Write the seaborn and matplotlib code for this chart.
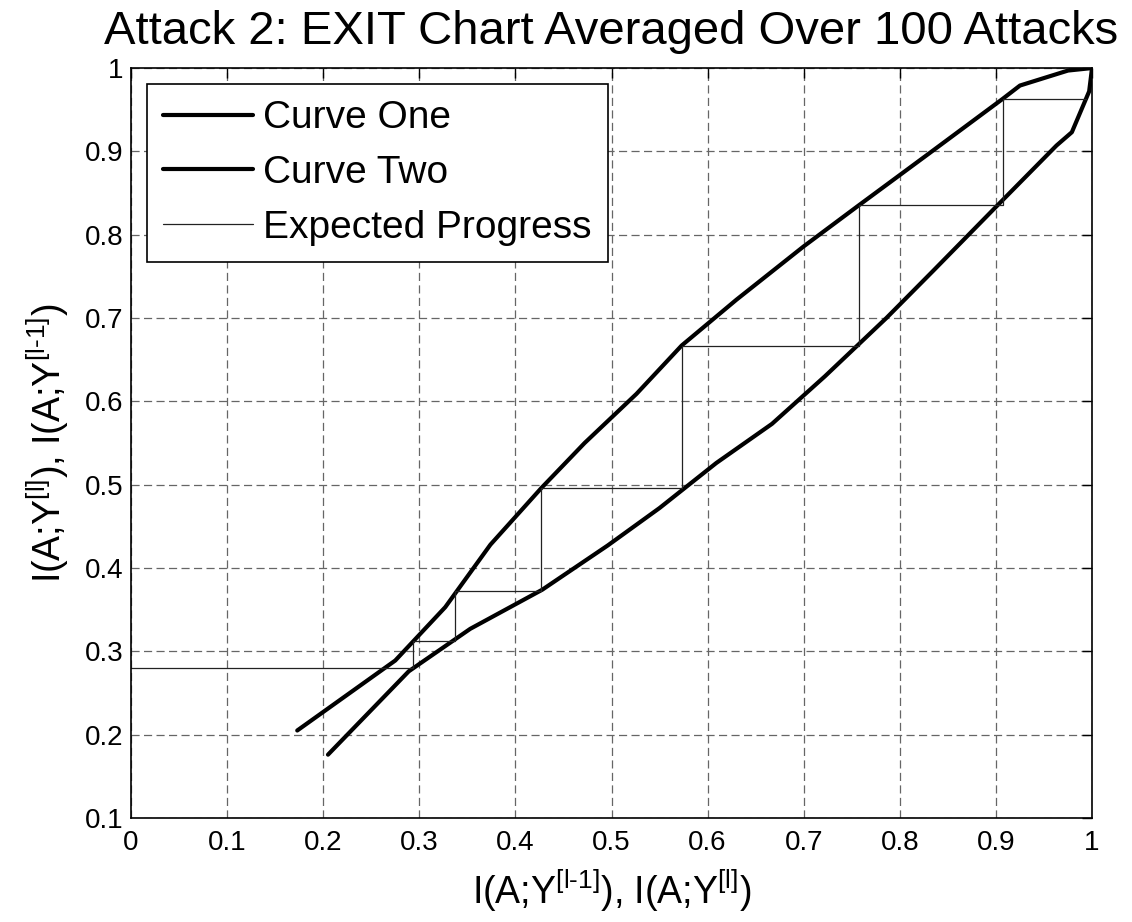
import numpy as np
import matplotlib
matplotlib.use("Agg")
import matplotlib.pyplot as plt
import seaborn as sns

# Curve one (upper curve)
curve_one_x = [0.173, 0.275, 0.327, 0.374, 0.427, 0.472, 0.526, 0.573, 0.630, 0.700, 0.757, 0.831, 0.907, 0.925, 0.975, 1.000]
curve_one_y = [0.205, 0.289, 0.353, 0.428, 0.496, 0.550, 0.609, 0.667, 0.722, 0.786, 0.835, 0.898, 0.963, 0.979, 0.997, 1.000]

# Curve two (lower curve)
curve_two_x = [0.205, 0.289, 0.353, 0.428, 0.496, 0.550, 0.609, 0.667, 0.722, 0.786, 0.835, 0.898, 0.963, 0.979, 0.997, 1.000]
curve_two_y = [0.176, 0.276, 0.327, 0.374, 0.427, 0.472, 0.526, 0.573, 0.630, 0.700, 0.757, 0.831, 0.907, 0.923, 0.972, 1.000]

# Expected progress staircase (corner points)
progress_x = [0.000, 0.293, 0.293, 0.337, 0.337, 0.427, 0.427, 0.573, 0.573, 0.757, 0.757, 0.907, 0.907, 0.994]
progress_y = [0.280, 0.280, 0.312, 0.312, 0.373, 0.373, 0.496, 0.496, 0.667, 0.667, 0.836, 0.836, 0.963, 0.963]

x_ticks = [0, 0.1, 0.2, 0.3, 0.4, 0.5, 0.6, 0.7, 0.8, 0.9, 1]
y_ticks = [0.1, 0.2, 0.3, 0.4, 0.5, 0.6, 0.7, 0.8, 0.9, 1]

sns.set_style("white")
plt.rcParams['font.family'] = ['Liberation Sans', 'DejaVu Sans']
plt.rcParams['mathtext.fontset'] = 'custom'
plt.rcParams['mathtext.rm'] = 'Liberation Sans'
plt.rcParams['mathtext.it'] = 'Liberation Sans'
plt.rcParams['mathtext.default'] = 'regular'
plt.rcParams['text.color'] = 'black'
plt.rcParams['axes.labelcolor'] = 'black'

fig = plt.figure(figsize=(11.32, 9.22), dpi=100)
ax = fig.add_axes([0.1157, 0.1128, 0.849, 0.8134])

sns.lineplot(x=curve_one_x, y=curve_one_y, sort=False, estimator=None, color='black',
             linewidth=3, label='Curve One', ax=ax)
sns.lineplot(x=curve_two_x, y=curve_two_y, sort=False, estimator=None, color='black',
             linewidth=3, label='Curve Two', ax=ax)
sns.lineplot(x=progress_x, y=progress_y, sort=False, estimator=None, color='#222222',
             linewidth=0.9, label='Expected Progress', ax=ax)

ax.set_xlim(0, 1)
ax.set_ylim(0.1, 1)
ax.set_xticks(x_ticks)
ax.set_yticks(y_ticks)
ax.set_xticklabels([f"{t:g}" for t in x_ticks])
ax.set_yticklabels([f"{t:g}" for t in y_ticks])

# MATLAB style grid and box
ax.grid(True, color='#666666', linestyle=(0, (6.5, 3.5)), linewidth=0.9)
ax.set_axisbelow(True)
for s in ax.spines.values():
    s.set_color('black')
    s.set_linewidth(1.2)
ax.tick_params(direction='in', length=7, width=1, top=True, right=True,
               labelsize=20, colors='black')
ax.tick_params(axis='x', pad=9)
ax.tick_params(axis='y', pad=5.5)

ax.set_title('Attack 2: EXIT Chart Averaged Over 100 Attacks', fontsize=34, pad=17)
ax.set_xlabel(r'I(A;Y$^{[l\text{-}1]}$), I(A;Y$^{[l]}$)', fontsize=27, labelpad=8)
ax.set_ylabel(r'I(A;Y$^{[l]}$), I(A;Y$^{[l\text{-}1]}$)', fontsize=27, labelpad=10)

leg = ax.legend(loc='upper left', fontsize=28, frameon=True, fancybox=False,
                edgecolor='black', framealpha=1, handlelength=2.3,
                handletextpad=0.26, labelspacing=0.48, borderpad=0.42,
                borderaxespad=0.41)
leg.get_frame().set_linewidth(1.2)

plt.savefig('out.png', dpi=100)
